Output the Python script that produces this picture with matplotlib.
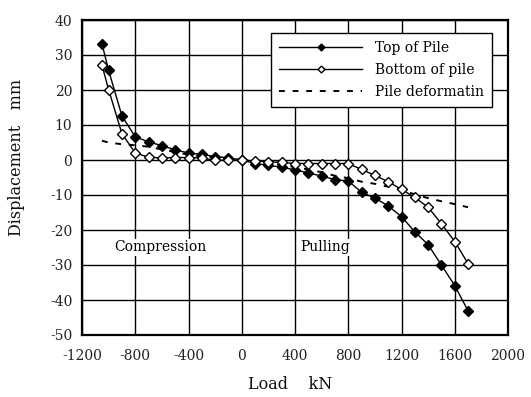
import matplotlib
matplotlib.use('Agg')
import matplotlib.pyplot as plt

plt.rcParams['font.family'] = 'DejaVu Serif'
plt.rcParams['axes.unicode_minus'] = False

# load steps (kN)
load = [-1050, -1000, -900, -800, -700, -600, -500, -400, -300, -200, -100, 0,
        100, 200, 300, 400, 500, 600, 700, 800, 900, 1000, 1100, 1200,
        1300, 1400, 1500, 1600, 1700]

# displacement of pile top (mm)
top = [33.2, 25.6, 12.6, 6.6, 5.2, 4.1, 2.9, 2.0, 1.6, 1.0, 0.6, 0.0,
       -1.0, -1.5, -2.1, -2.8, -3.7, -4.6, -5.6, -6.0, -9.2, -10.9, -13.1, -16.2,
       -20.5, -24.2, -30.0, -35.9, -43.1]

# displacement of pile bottom (mm)
bottom = [27.1, 20.1, 7.5, 2.0, 0.8, 0.6, 0.7, 0.7, 0.6, -0.1, 0.0, 0.0,
          -0.3, -0.5, -0.7, -1.0, -1.0, -1.0, -1.0, -1.0, -2.7, -4.4, -6.2, -8.4,
          -10.7, -13.5, -18.2, -23.3, -29.6]

# pile deformation (mm)
deform = [5.5, 5.0, 4.5, 4.2, 3.8, 3.0, 2.3, 1.5, 1.0, 0.8, 0.5, 0.0,
          -0.5, -1.0, -1.5, -2.0, -2.7, -3.5, -4.5, -5.2, -6.2, -6.8, -7.6, -8.6,
          -9.8, -10.9, -11.8, -12.6, -13.5]

fig = plt.figure(figsize=(5.31, 3.97), dpi=100)
ax = fig.add_axes([82/531, 1 - 335/397, 426/531, 315/397])

ax.plot(load, deform, color='k', lw=1.4, ls=(0, (3, 4)), label='Pile deformatin', zorder=2)
ax.plot(load, top, color='k', lw=1.0, marker='D', ms=5, mfc='k', mec='k',
        label='Top of Pile', zorder=3)
ax.plot(load, bottom, color='k', lw=1.0, marker='D', ms=5, mfc='white', mec='k',
        mew=1.0, label='Bottom of pile', zorder=4)

ax.set_xlim(-1200, 2000)
ax.set_ylim(-50, 40)
ax.set_xticks(range(-1200, 2001, 400))
ax.set_yticks(range(-50, 41, 10))
ax.grid(True, color='k', lw=1.0)
ax.set_axisbelow(True)
ax.tick_params(length=0, labelsize=10, colors='#222222')
ax.tick_params(axis='x', pad=10)
ax.tick_params(axis='y', pad=7)
for s in ax.spines.values():
    s.set_linewidth(1.6)

ax.set_xlabel('Load    kN', fontsize=11.5, color='#111111')
ax.set_ylabel('Displacement   mm', fontsize=11.5, color='#111111')
ax.xaxis.set_label_coords(0.488, -0.130)
ax.yaxis.set_label_coords(-0.134, 0.565)

ax.text(-615, -25, 'Compression', fontsize=10, ha='center', va='center',
        bbox=dict(fc='white', ec='none', pad=1))
ax.text(630, -25, 'Pulling', fontsize=10, ha='center', va='center',
        bbox=dict(fc='white', ec='none', pad=1))

h, l = ax.get_legend_handles_labels()
leg = ax.legend([h[1], h[2], h[0]], [l[1], l[2], l[0]], loc='upper right',
                bbox_to_anchor=((492 - 82)/426, 1 - 13/315), borderaxespad=0,
                fontsize=10, fancybox=False, framealpha=1, edgecolor='k',
                handlelength=6.0, markerscale=0.7, borderpad=0.6,
                labelspacing=0.55, handletextpad=0.9)
leg.get_frame().set_linewidth(1.0)

fig.savefig('out.png', dpi=100)
